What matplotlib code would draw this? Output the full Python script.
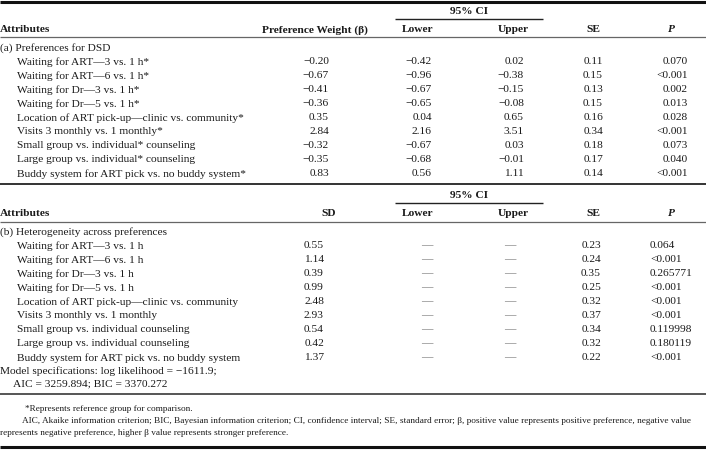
import matplotlib
matplotlib.use("Agg")
import matplotlib.pyplot as plt

# ---------------- data ----------------
attributes_a = [
    "Waiting for ART\u20143 vs. 1 h*",
    "Waiting for ART\u20146 vs. 1 h*",
    "Waiting for Dr\u20143 vs. 1 h*",
    "Waiting for Dr\u20145 vs. 1 h*",
    "Location of ART pick-up\u2014clinic vs. community*",
    "Visits 3 monthly vs. 1 monthly*",
    "Small group vs. individual* counseling",
    "Large group vs. individual* counseling",
    "Buddy system for ART pick vs. no buddy system*",
]
beta = ["\u22120.20", "\u22120.67", "\u22120.41", "\u22120.36", "0.35", "2.84", "\u22120.32", "\u22120.35", "0.83"]
lower_a = ["\u22120.42", "\u22120.96", "\u22120.67", "\u22120.65", "0.04", "2.16", "\u22120.67", "\u22120.68", "0.56"]
upper_a = ["0.02", "\u22120.38", "\u22120.15", "\u22120.08", "0.65", "3.51", "0.03", "\u22120.01", "1.11"]
se_a = ["0.11", "0.15", "0.13", "0.15", "0.16", "0.34", "0.18", "0.17", "0.14"]
p_a = ["0.070", "<0.001", "0.002", "0.013", "0.028", "<0.001", "0.073", "0.040", "<0.001"]

attributes_b = [
    "Waiting for ART\u20143 vs. 1 h",
    "Waiting for ART\u20146 vs. 1 h",
    "Waiting for Dr\u20143 vs. 1 h",
    "Waiting for Dr\u20145 vs. 1 h",
    "Location of ART pick-up\u2014clinic vs. community",
    "Visits 3 monthly vs. 1 monthly",
    "Small group vs. individual counseling",
    "Large group vs. individual counseling",
    "Buddy system for ART pick vs. no buddy system",
]
sd_b = ["0.55", "1.14", "0.39", "0.99", "2.48", "2.93", "0.54", "0.42", "1.37"]
lower_b = ["\u2014"] * 9
upper_b = ["\u2014"] * 9
se_b = ["0.23", "0.24", "0.35", "0.25", "0.32", "0.37", "0.34", "0.32", "0.22"]
p_b = ["0.064", "<0.001", "0.265771", "<0.001", "<0.001", "<0.001", "0.119998", "0.180119", "<0.001"]

section_a = "(a) Preferences for DSD"
section_b = "(b) Heterogeneity across preferences"
model_lines = ["Model specifications: log likelihood = \u22121611.9;",
               "AIC = 3259.894; BIC = 3370.272"]
footnotes = [
    "*Represents reference group for comparison.",
    "AIC, Akaike information criterion; BIC, Bayesian information criterion; CI, confidence interval; SE, standard error; \u03b2, positive value represents positive preference, negative value",
    "represents negative preference, higher \u03b2 value represents stronger preference.",
]

# ---------------- drawing ----------------
W, H = 706, 467
fig = plt.figure(figsize=(W / 100, H / 100), dpi=100)
ax = fig.add_axes([0, 0, 1, 1])
ax.set_xlim(0, W)
ax.set_ylim(H, 0)
ax.axis("off")

FONT = ["Liberation Serif", "DejaVu Serif"]
FS = 8.2
FS_NOTE = 6.7
TXT = "#1a1a1a"


def t(x, y, s, ha="left", bold=False, italic=False, size=FS, color=TXT):
    ax.text(x, y, s, ha=ha, va="center_baseline", fontsize=size, family=FONT,
            fontweight="bold" if bold else "normal",
            fontstyle="italic" if italic else "normal", color=color)


def hline(y, x0=0, x1=W, lw=1.0, color="#333333"):
    ax.plot([x0, x1], [y, y], color=color, lw=lw, solid_capstyle="butt")


# column positions
X_LABEL = 0
X_ATTR = 17
X_COL1 = 329      # right edge of beta / SD values
X_LOW = 432
X_UP = 524
X_SE = 603
X_P = 688
C_COL1 = 315
C_LOW = 418
C_UP = 513
C_SE = 593
C_P = 672
CI_X0, CI_X1 = 395, 543

ROW = 14.0

# top rule
hline(1.5, lw=2.2, color="#111111")

# ---- section (a) header ----
t((CI_X0 + CI_X1) / 2, 11, "95% CI", ha="center", bold=True)
hline(19, CI_X0, CI_X1, lw=1.0, color="#222222")
t(X_LABEL, 29, "Attributes", bold=True)
t(C_COL1, 29, "Preference Weight (\u03b2)", ha="center", bold=True)
t(C_LOW, 29, "Lower", ha="center", bold=True)
t(C_UP, 29, "Upper", ha="center", bold=True)
t(C_SE, 29, "SE", ha="center", bold=True)
t(C_P, 29, "P", ha="center", bold=True, italic=True)
hline(37, lw=0.9, color="#666666")

t(X_LABEL, 47, section_a)
y0 = 61
for i, lab in enumerate(attributes_a):
    y = y0 + i * ROW
    t(X_ATTR, y, lab)
    t(X_COL1, y, beta[i], ha="right")
    t(X_LOW, y, lower_a[i], ha="right")
    t(X_UP, y, upper_a[i], ha="right")
    t(X_SE, y, se_a[i], ha="right")
    t(X_P, y, p_a[i], ha="right")

hline(184, lw=1.4, color="#333333")

# ---- section (b) header ----
t((CI_X0 + CI_X1) / 2, 195, "95% CI", ha="center", bold=True)
hline(203, CI_X0, CI_X1, lw=1.0, color="#222222")
t(X_LABEL, 213, "Attributes", bold=True)
t(C_COL1 + 14, 213, "SD", ha="center", bold=True)
t(C_LOW, 213, "Lower", ha="center", bold=True)
t(C_UP, 213, "Upper", ha="center", bold=True)
t(C_SE, 213, "SE", ha="center", bold=True)
t(C_P, 213, "P", ha="center", bold=True, italic=True)
hline(222, lw=0.9, color="#666666")

t(X_LABEL, 231, section_b)
y0 = 245
for i, lab in enumerate(attributes_b):
    y = y0 + i * ROW
    t(X_ATTR, y, lab)
    t(X_COL1 - 5, y, sd_b[i], ha="right")
    t(427, y, lower_b[i], ha="center", color="#666666")
    t(510, y, upper_b[i], ha="center", color="#666666")
    t(X_SE - 2, y, se_b[i], ha="right")
    t(650, y, p_b[i], ha="left")

t(X_LABEL, 370, model_lines[0])
t(13, 383, model_lines[1])
hline(394, lw=1.4, color="#555555")

t(25, 408, footnotes[0], size=FS_NOTE)
t(22, 420, footnotes[1], size=FS_NOTE)
t(0, 432, footnotes[2], size=FS_NOTE)

hline(447, lw=2.2, color="#111111")

fig.savefig("out.png", dpi=100)
